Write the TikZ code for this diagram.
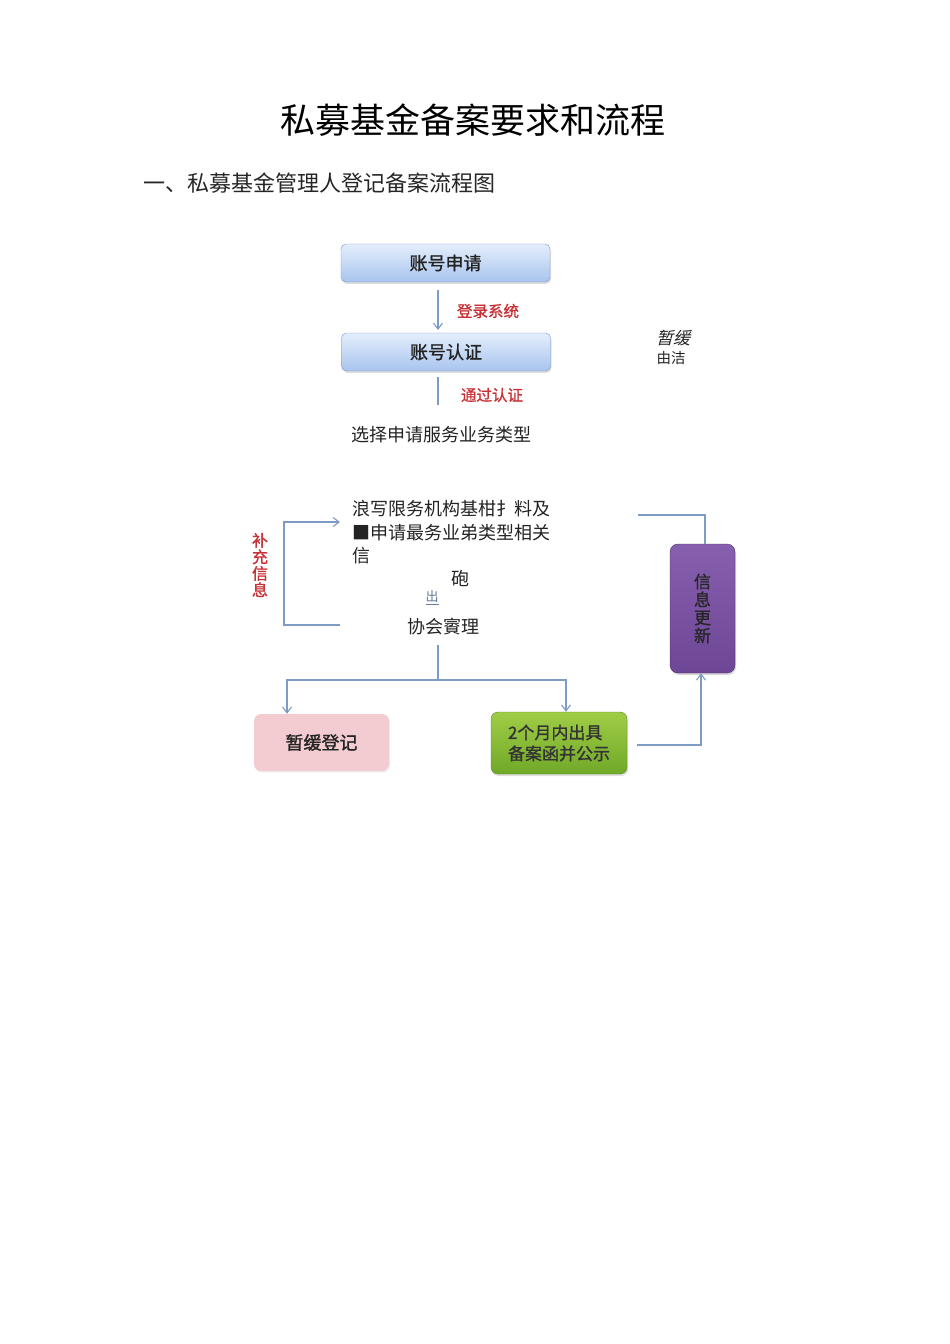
\documentclass[tikz,border=0pt]{standalone}
\usepackage{fontspec}
\setmainfont{Noto Sans CJK SC}
\newfontfamily\cjk{Noto Sans CJK SC}
\newfontfamily\cjkit[FakeSlant=0.25]{Noto Sans CJK SC}
\newfontfamily\cjkbf[FakeBold=1.2]{Noto Sans CJK SC}
\usetikzlibrary{arrows.meta,shadows}
\definecolor{linec}{RGB}{125,155,195}
\definecolor{bluetop}{RGB}{228,238,252}
\definecolor{bluebot}{RGB}{168,196,238}
\definecolor{blueedge}{RGB}{120,150,200}
\definecolor{redlab}{RGB}{200,50,55}
\definecolor{pinkc}{RGB}{242,204,208}
\definecolor{greentop}{RGB}{160,205,70}
\definecolor{greenbot}{RGB}{112,168,40}
\definecolor{purpletop}{RGB}{135,95,175}
\definecolor{purplebot}{RGB}{110,70,150}
\definecolor{txt}{RGB}{35,35,35}
\tikzset{
  conn/.style={draw=linec, line width=1.1pt},
  tip/.style={-{Straight Barb[length=6pt,width=9pt]}},
  bluebox/.style={draw=blueedge, rounded corners=5pt, top color=bluetop, bottom color=bluebot, minimum width=209pt, minimum height=38pt, font=\cjkbf\fontsize{18}{20}\selectfont, text=txt, drop shadow={opacity=0.25, shadow xshift=1pt, shadow yshift=-2pt}},
  redlabel/.style={text=redlab, font=\cjkbf\fontsize{15.5}{17}\selectfont},
  plain/.style={text=txt, font=\fontsize{18}{20}\selectfont, inner sep=0pt, anchor=west},
}
\begin{document}
\begin{tikzpicture}[x=1pt,y=-1pt]
\useasboundingbox[fill=white] (0,0) rectangle (950,1344);
% title
\node[text=black, font=\fontsize{35}{38}\selectfont] (title) at (473,120) {私募基金备案要求和流程};
\node[text=black!85, font=\fontsize{22}{24}\selectfont, anchor=west, inner sep=0pt] (sub) at (143,183) {一、私募基金管理人登记备案流程图};
% top boxes
\node[bluebox] (b1) at (445.5,263) {账号申请};
\node[bluebox] (b2) at (446,352) {账号认证};
\draw[conn,tip] (438,290) coordinate (a1s) -- (438,330) coordinate (a1e);
\node[redlabel] (l1) at (488,311) {登录系统};
\coordinate (a2s) at (438,377);
\coordinate (a2e) at (438,405);
\draw[conn] (a2s) -- (a2e);
\node[redlabel] (l2) at (492,395) {通过认证};
\node[plain] (sel) at (351,435) {选择申请服务业务类型};
% side notes
\node[text=txt, font=\cjkit\fontsize{17}{19}\selectfont] (zh) at (673,338) {暂缓};
\node[text=txt, font=\fontsize{14.5}{16}\selectfont] (yj) at (671,358) {由洁};
% text block
\node[plain] (t1) at (352,509) {浪写限务机构基柑扌料及};
\node[plain] (t2) at (352,533) {■申请最务业弟类型相关};
\node[plain] (t3) at (352,556) {信};
\node[plain] (t4) at (451,579) {砲};
\node[text=linec!80!black, font=\fontsize{13}{14}\selectfont, inner sep=0pt] (t5) at (432,598) {\underline{出}};
\node[plain] (t6) at (407,627) {协会賨理};
% loop left
\coordinate (lp1) at (340,625);
\coordinate (lp2) at (284,625);
\coordinate (lp3) at (284,522);
\coordinate (lp4) at (340,522);
\draw[conn,tip] (lp1) -- (lp2) -- (lp3) -- (lp4);
\node[redlabel, align=center, font=\cjkbf\fontsize{16}{16.5}\selectfont] (bc) at (260,565) {补\\充\\信\\息};
% bottom boxes
\node[draw=none, fill=pinkc, rounded corners=7pt, minimum width=135pt, minimum height=57pt, font=\cjkbf\fontsize{18}{20}\selectfont, text=txt, drop shadow={opacity=0.12, shadow xshift=1pt, shadow yshift=-1.5pt}] (pk) at (321.5,742.5) {暂缓登记};
\node[draw=greenbot!80!black, line width=0.4pt, top color=greentop, bottom color=greenbot, rounded corners=7pt, minimum width=136pt, minimum height=62pt, font=\cjkbf\fontsize{17}{21}\selectfont, text=black!80, align=left, drop shadow={opacity=0.25, shadow xshift=1pt, shadow yshift=-2pt}] (gr) at (559,743) {2个月内出具\\备案函并公示};
\node[draw=purplebot!70!black, line width=0.4pt, top color=purpletop, bottom color=purplebot, rounded corners=8pt, minimum width=65pt, minimum height=129pt, font=\cjkbf\fontsize{17}{18}\selectfont, text=black!85, align=center, drop shadow={opacity=0.3, shadow xshift=1pt, shadow yshift=-2pt}] (pu) at (702.5,608.5) {信\\息\\更\\新};
% connectors from 协会审理
\coordinate (s0) at (438,645);
\coordinate (s1) at (438,680);
\coordinate (sl) at (287,680);
\coordinate (sr) at (566,680);
\draw[conn] (s0) -- (s1);
\draw[conn,tip] (s1) -- (sl) -- (pk.north -| sl);
\draw[conn,tip] (s1) -- (sr) -- (gr.north -| sr);
% green to purple
\coordinate (g1) at (637,745);
\coordinate (g2) at (701,745);
\draw[conn,tip] (g1) -- (g2) -- (pu.south -| g2);
% purple to top
\coordinate (p1) at (638,515);
\coordinate (p2) at (705,515);
\draw[conn] (p1) -- (p2) -- (pu.north -| p2);
\end{tikzpicture}
\end{document}
